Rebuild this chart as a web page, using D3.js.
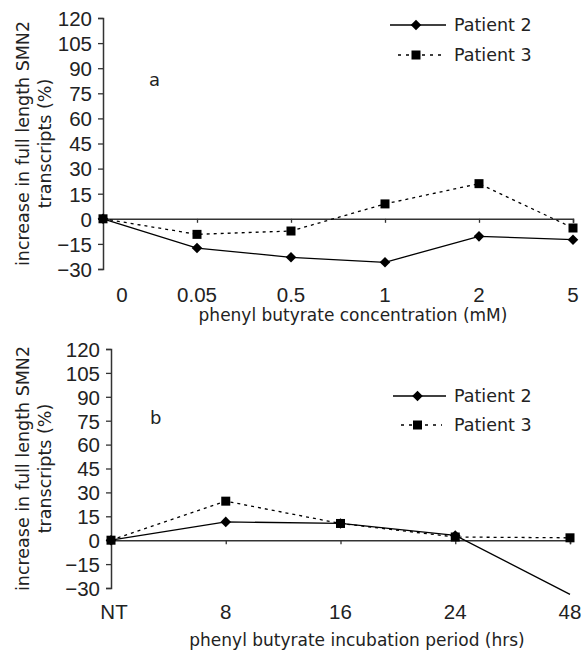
<!DOCTYPE html>
<html>
<head>
<meta charset="utf-8">
<script src="https://cdn.jsdelivr.net/npm/d3@7"></script>
<style>
  body { margin: 0; background: #fff; }
  .num { font-family: "Liberation Sans", Arial, sans-serif; font-size: 20.5px; fill: #222; }
  .lab { font-family: "DejaVu Sans", Verdana, sans-serif; font-size: 17px; fill: #222; }
</style>
</head>
<body>
<div id="container"></div>
<script>
// panel a
const concCats = ["0", "0.05", "0.5", "1", "2", "5"];
const concP2 = [0, -17.5, -23, -26, -10.5, -12.5];
const concP3 = [0, -9.3, -7.3, 8.9, 21, -5.5];
// panel b
const timeCats = ["NT", "8", "16", "24", "48"];
const timeP2 = [0, 11.5, 10.5, 3, -34];
const timeP3 = [0, 24.5, 10.5, 2, 1.5];

const yTicks = [-30, -15, 0, 15, 30, 45, 60, 75, 90, 105, 120];
const seriesNames = ["Patient 2", "Patient 3"];

const w = 586, h = 652;
const svg = d3.select("#container").append("svg")
  .attr("width", w).attr("height", h);

function panel(cfg) {
  const x = d3.scalePoint().domain(cfg.cats).range([cfg.x0, cfg.x1]).padding(0);
  const y = d3.scaleLinear().domain([-30, 120]).range([cfg.yb, cfg.yt]);
  const g = svg.append("g");

  // y axis
  const yAxis = d3.axisLeft(y).tickValues(yTicks).tickSize(5).tickPadding(6);
  const ya = g.append("g").attr("transform", "translate(" + cfg.x0 + ",0)").call(yAxis);
  ya.select(".domain").attr("stroke", "#333").attr("stroke-width", 1.5);
  ya.selectAll(".tick line").attr("stroke", "#333").attr("stroke-width", 1.3);
  ya.selectAll("text").attr("class", "num").attr("fill", null).attr("dy", "0.36em");

  // zero line with category ticks
  const xa = g.append("g").attr("transform", "translate(0," + y(0) + ")")
    .call(d3.axisBottom(x).tickSize(4).tickFormat(""));
  xa.select(".domain").attr("stroke", "#333").attr("stroke-width", 1.5);
  xa.selectAll(".tick line").attr("stroke", "#333").attr("stroke-width", 1.3);

  // category labels along the bottom
  g.selectAll(".catlab").data(cfg.cats).enter().append("text")
    .attr("class", "num")
    .attr("text-anchor", "middle")
    .attr("x", (d, i) => x(d) + (i === 0 ? cfg.firstShift : 0))
    .attr("y", cfg.labY)
    .text(d => d);

  g.append("text").attr("class", "lab").attr("text-anchor", "middle")
    .attr("x", cfg.titleX).attr("y", cfg.titleY).text(cfg.title);

  const yt = g.append("text").attr("class", "lab").attr("text-anchor", "middle")
    .style("font-size", "17.5px")
    .attr("transform", "translate(0," + (cfg.yb + cfg.yt) / 2 + ") rotate(-90)");
  yt.append("tspan").attr("x", 0).attr("y", 29).text("increase in full length SMN2");
  yt.append("tspan").attr("x", 0).attr("y", 51).text("transcripts (%)");

  g.append("text").attr("class", "lab").style("font-size", "18px")
    .attr("x", cfg.letterX).attr("y", cfg.letterY)
    .text(cfg.letter);

  const line = d3.line().x((d, i) => x(cfg.cats[i])).y(d => y(d));
  const clipId = "clip" + cfg.letter;
  svg.append("clipPath").attr("id", clipId).append("rect")
    .attr("x", cfg.x0 - 10).attr("y", cfg.yt - 10)
    .attr("width", cfg.x1 - cfg.x0 + 20).attr("height", cfg.yb - cfg.yt + 30);

  g.append("path").datum(cfg.p3).attr("d", line)
    .attr("fill", "none").attr("stroke", "#000").attr("stroke-width", 1.3)
    .attr("stroke-dasharray", "3,4");
  g.append("path").datum(cfg.p2).attr("d", line)
    .attr("fill", "none").attr("stroke", "#000").attr("stroke-width", 1.3)
    .attr("clip-path", "url(#" + clipId + ")");

  const diamond = d3.symbol().type(d3.symbolSquare).size(56);
  g.selectAll(".m2").data(cfg.p2.filter(v => v >= -30).map((v, i) => [i, v]))
    .enter().append("path")
    .attr("d", diamond)
    .attr("transform", d => "translate(" + x(cfg.cats[d[0]]) + "," + y(d[1]) + ") rotate(45)")
    .attr("fill", "#000");
  g.selectAll(".m3").data(cfg.p3.map((v, i) => [i, v]))
    .enter().append("rect")
    .attr("x", d => x(cfg.cats[d[0]]) - 4.5).attr("y", d => y(d[1]) - 4.5)
    .attr("width", 9).attr("height", 9).attr("fill", "#000");

  // legend
  const lg = g.append("g");
  seriesNames.forEach((name, i) => {
    const ly = cfg.legY[i];
    const l = lg.append("line")
      .attr("x1", i === 0 ? cfg.legX0 : cfg.legX0 + 8).attr("x2", i === 0 ? cfg.legX1 : cfg.legX1 - 4)
      .attr("y1", ly).attr("y2", ly)
      .attr("stroke", "#000").attr("stroke-width", 1.3);
    if (i === 1) l.attr("stroke-dasharray", "3,5");
    const mx = (cfg.legX0 + cfg.legX1) / 2 - 2;
    if (i === 0) {
      lg.append("path").attr("d", diamond)
        .attr("transform", "translate(" + mx + "," + ly + ") rotate(45)").attr("fill", "#000");
    } else {
      lg.append("rect").attr("x", mx - 4.5).attr("y", ly - 4.5)
        .attr("width", 9).attr("height", 9).attr("fill", "#000");
    }
    lg.append("text").attr("class", "lab").style("font-size", "17.5px")
      .attr("x", cfg.legX1 + 8).attr("y", ly + 6).text(name);
  });
}

panel({
  cats: concCats, p2: concP2, p3: concP3,
  x0: 103, x1: 573, yt: 18, yb: 269,
  firstShift: 19, labY: 302,
  title: "phenyl butyrate concentration (mM)", titleX: 353, titleY: 321,
  letter: "a", letterX: 149, letterY: 86,
  legX0: 390, legX1: 446, legY: [25, 55]
});

panel({
  cats: timeCats, p2: timeP2, p3: timeP3,
  x0: 111, x1: 570, yt: 349, yb: 588,
  firstShift: 3, labY: 619,
  title: "phenyl butyrate incubation period (hrs)", titleX: 357, titleY: 646,
  letter: "b", letterX: 150, letterY: 424,
  legX0: 393, legX1: 446, legY: [396, 425]
});
</script>
</body>
</html>
